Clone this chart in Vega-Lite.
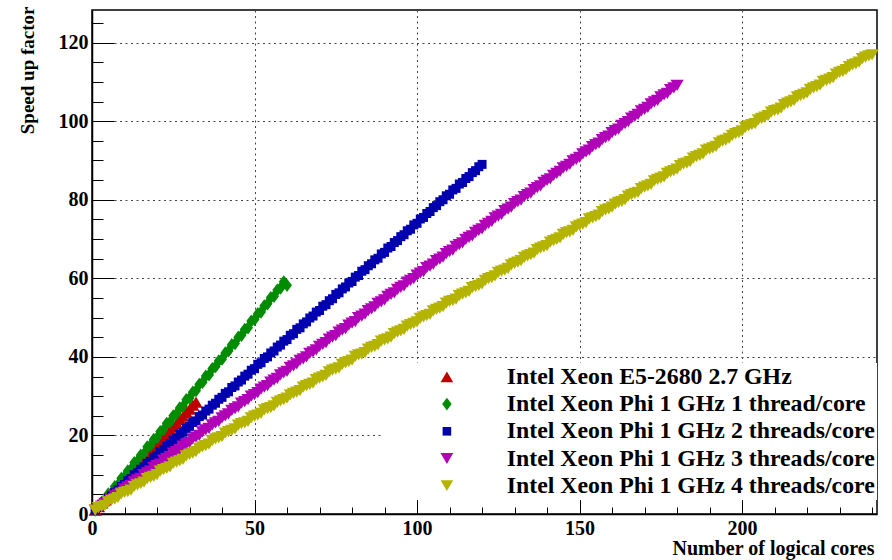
{
"$schema": "https://vega.github.io/schema/vega-lite/v6.json",
"width": 785, "height": 504,
"autosize": "none",
"padding": {"left": 92, "top": 10, "right": 15, "bottom": 46},
"background": "white",
"config": {
  "view": {"stroke": "#000", "strokeWidth": 1.5},
  "font": "Liberation Serif",
  "legend": {"orient": "none", "legendX": 290, "legendY": 353, "fillColor": "white", "padding": 2, "symbolSize": 160, "symbolOffset": 51, "labelOffset": 48, "labelFont": "Liberation Serif", "labelFontWeight": "bold", "labelFontSize": 23.8, "labelColor": "#000", "labelLimit": 0, "rowPadding": 2.2, "symbolStrokeWidth": 0, "symbolOpacity": 1, "strokeColor": null}
},
"data": {"values": [
{"s":"A","x":1,"y":1.0},{"s":"A","x":2,"y":1.9},{"s":"A","x":3,"y":2.8},{"s":"A","x":4,"y":3.6},{"s":"A","x":5,"y":4.6},{"s":"A","x":6,"y":5.4},{"s":"A","x":7,"y":6.3},{"s":"A","x":8,"y":7.2},
{"s":"A","x":9,"y":8.1},{"s":"A","x":10,"y":9.0},{"s":"A","x":11,"y":9.9},{"s":"A","x":12,"y":10.7},{"s":"A","x":13,"y":11.7},{"s":"A","x":14,"y":12.5},{"s":"A","x":15,"y":13.4},{"s":"A","x":16,"y":14.3},
{"s":"A","x":17,"y":15.2},{"s":"A","x":18,"y":16.1},{"s":"A","x":19,"y":17.0},{"s":"A","x":20,"y":17.8},{"s":"A","x":21,"y":18.8},{"s":"A","x":22,"y":19.6},{"s":"A","x":23,"y":20.5},{"s":"A","x":24,"y":21.4},
{"s":"A","x":25,"y":22.3},{"s":"A","x":26,"y":23.1},{"s":"A","x":27,"y":24.1},{"s":"A","x":28,"y":24.9},{"s":"A","x":29,"y":25.9},{"s":"A","x":30,"y":26.7},{"s":"A","x":31,"y":27.7},{"s":"A","x":32,"y":28.5},
{"s":"B","x":1,"y":1.0},{"s":"B","x":2,"y":1.6},{"s":"B","x":3,"y":3.0},{"s":"B","x":4,"y":3.5},{"s":"B","x":5,"y":5.1},{"s":"B","x":6,"y":5.4},{"s":"B","x":7,"y":7.0},{"s":"B","x":8,"y":7.5},
{"s":"B","x":9,"y":9.1},{"s":"B","x":10,"y":9.5},{"s":"B","x":11,"y":11.0},{"s":"B","x":12,"y":11.4},{"s":"B","x":13,"y":13.1},{"s":"B","x":14,"y":13.5},{"s":"B","x":15,"y":15.0},{"s":"B","x":16,"y":15.4},
{"s":"B","x":17,"y":17.1},{"s":"B","x":18,"y":17.5},{"s":"B","x":19,"y":19.0},{"s":"B","x":20,"y":19.4},{"s":"B","x":21,"y":21.0},{"s":"B","x":22,"y":21.5},{"s":"B","x":23,"y":23.1},{"s":"B","x":24,"y":23.4},
{"s":"B","x":25,"y":25.0},{"s":"B","x":26,"y":25.5},{"s":"B","x":27,"y":27.0},{"s":"B","x":28,"y":27.4},{"s":"B","x":29,"y":29.1},{"s":"B","x":30,"y":29.5},{"s":"B","x":31,"y":31.0},{"s":"B","x":32,"y":31.4},
{"s":"B","x":33,"y":33.0},{"s":"B","x":34,"y":33.5},{"s":"B","x":35,"y":35.1},{"s":"B","x":36,"y":35.4},{"s":"B","x":37,"y":37.0},{"s":"B","x":38,"y":37.5},{"s":"B","x":39,"y":39.0},{"s":"B","x":40,"y":39.4},
{"s":"B","x":41,"y":41.0},{"s":"B","x":42,"y":41.5},{"s":"B","x":43,"y":43.1},{"s":"B","x":44,"y":43.4},{"s":"B","x":45,"y":45.0},{"s":"B","x":46,"y":45.5},{"s":"B","x":47,"y":47.0},{"s":"B","x":48,"y":47.4},
{"s":"B","x":49,"y":49.1},{"s":"B","x":50,"y":49.5},{"s":"B","x":51,"y":51.0},{"s":"B","x":52,"y":51.4},{"s":"B","x":53,"y":53.0},{"s":"B","x":54,"y":53.5},{"s":"B","x":55,"y":55.1},{"s":"B","x":56,"y":55.4},
{"s":"B","x":57,"y":57.0},{"s":"B","x":58,"y":57.5},{"s":"B","x":59,"y":59.1},{"s":"B","x":60,"y":58.2},
{"s":"C","x":1,"y":1.0},{"s":"C","x":2,"y":1.7},{"s":"C","x":3,"y":2.5},{"s":"C","x":4,"y":3.1},{"s":"C","x":5,"y":4.0},{"s":"C","x":6,"y":4.6},{"s":"C","x":7,"y":5.5},{"s":"C","x":8,"y":6.1},
{"s":"C","x":9,"y":7.0},{"s":"C","x":10,"y":7.5},{"s":"C","x":11,"y":8.5},{"s":"C","x":12,"y":9.0},{"s":"C","x":13,"y":10.0},{"s":"C","x":14,"y":10.5},{"s":"C","x":15,"y":11.4},{"s":"C","x":16,"y":12.0},
{"s":"C","x":17,"y":12.9},{"s":"C","x":18,"y":13.4},{"s":"C","x":19,"y":14.4},{"s":"C","x":20,"y":14.9},{"s":"C","x":21,"y":15.9},{"s":"C","x":22,"y":16.4},{"s":"C","x":23,"y":17.3},{"s":"C","x":24,"y":17.9},
{"s":"C","x":25,"y":18.8},{"s":"C","x":26,"y":19.3},{"s":"C","x":27,"y":20.3},{"s":"C","x":28,"y":20.8},{"s":"C","x":29,"y":21.8},{"s":"C","x":30,"y":22.3},{"s":"C","x":31,"y":23.3},{"s":"C","x":32,"y":23.7},
{"s":"C","x":33,"y":24.8},{"s":"C","x":34,"y":25.2},{"s":"C","x":35,"y":26.2},{"s":"C","x":36,"y":26.7},{"s":"C","x":37,"y":27.7},{"s":"C","x":38,"y":28.2},{"s":"C","x":39,"y":29.2},{"s":"C","x":40,"y":29.7},
{"s":"C","x":41,"y":30.7},{"s":"C","x":42,"y":31.1},{"s":"C","x":43,"y":32.2},{"s":"C","x":44,"y":32.6},{"s":"C","x":45,"y":33.6},{"s":"C","x":46,"y":34.1},{"s":"C","x":47,"y":35.1},{"s":"C","x":48,"y":35.6},
{"s":"C","x":49,"y":36.6},{"s":"C","x":50,"y":37.0},{"s":"C","x":51,"y":38.1},{"s":"C","x":52,"y":38.5},{"s":"C","x":53,"y":39.6},{"s":"C","x":54,"y":40.0},{"s":"C","x":55,"y":41.0},{"s":"C","x":56,"y":41.5},
{"s":"C","x":57,"y":42.5},{"s":"C","x":58,"y":43.0},{"s":"C","x":59,"y":44.0},{"s":"C","x":60,"y":44.4},{"s":"C","x":61,"y":45.5},{"s":"C","x":62,"y":45.9},{"s":"C","x":63,"y":47.0},{"s":"C","x":64,"y":47.4},
{"s":"C","x":65,"y":48.4},{"s":"C","x":66,"y":48.9},{"s":"C","x":67,"y":49.9},{"s":"C","x":68,"y":50.4},{"s":"C","x":69,"y":51.4},{"s":"C","x":70,"y":51.8},{"s":"C","x":71,"y":52.9},{"s":"C","x":72,"y":53.3},
{"s":"C","x":73,"y":54.3},{"s":"C","x":74,"y":54.8},{"s":"C","x":75,"y":55.9},{"s":"C","x":76,"y":56.3},{"s":"C","x":77,"y":57.3},{"s":"C","x":78,"y":57.8},{"s":"C","x":79,"y":58.8},{"s":"C","x":80,"y":59.2},
{"s":"C","x":81,"y":60.3},{"s":"C","x":82,"y":60.7},{"s":"C","x":83,"y":61.8},{"s":"C","x":84,"y":62.2},{"s":"C","x":85,"y":63.2},{"s":"C","x":86,"y":63.7},{"s":"C","x":87,"y":64.7},{"s":"C","x":88,"y":65.1},
{"s":"C","x":89,"y":66.2},{"s":"C","x":90,"y":66.6},{"s":"C","x":91,"y":67.7},{"s":"C","x":92,"y":68.1},{"s":"C","x":93,"y":69.1},{"s":"C","x":94,"y":69.6},{"s":"C","x":95,"y":70.6},{"s":"C","x":96,"y":71.1},
{"s":"C","x":97,"y":72.1},{"s":"C","x":98,"y":72.5},{"s":"C","x":99,"y":73.6},{"s":"C","x":100,"y":74.0},{"s":"C","x":101,"y":75.1},{"s":"C","x":102,"y":75.5},{"s":"C","x":103,"y":76.5},{"s":"C","x":104,"y":77.0},
{"s":"C","x":105,"y":78.0},{"s":"C","x":106,"y":78.5},{"s":"C","x":107,"y":79.5},{"s":"C","x":108,"y":80.0},{"s":"C","x":109,"y":81.0},{"s":"C","x":110,"y":81.4},{"s":"C","x":111,"y":82.5},{"s":"C","x":112,"y":82.9},
{"s":"C","x":113,"y":84.0},{"s":"C","x":114,"y":84.4},{"s":"C","x":115,"y":85.4},{"s":"C","x":116,"y":85.9},{"s":"C","x":117,"y":86.9},{"s":"C","x":118,"y":87.4},{"s":"C","x":119,"y":88.4},{"s":"C","x":120,"y":89.0},
{"s":"D","x":1,"y":1.0},{"s":"D","x":2,"y":1.5},{"s":"D","x":3,"y":2.0},{"s":"D","x":4,"y":2.7},{"s":"D","x":5,"y":3.2},{"s":"D","x":6,"y":3.7},{"s":"D","x":7,"y":4.6},{"s":"D","x":8,"y":5.0},
{"s":"D","x":9,"y":5.5},{"s":"D","x":10,"y":6.4},{"s":"D","x":11,"y":6.9},{"s":"D","x":12,"y":7.3},{"s":"D","x":13,"y":8.2},{"s":"D","x":14,"y":8.7},{"s":"D","x":15,"y":9.1},{"s":"D","x":16,"y":10.0},
{"s":"D","x":17,"y":10.5},{"s":"D","x":18,"y":10.9},{"s":"D","x":19,"y":11.9},{"s":"D","x":20,"y":12.3},{"s":"D","x":21,"y":12.7},{"s":"D","x":22,"y":13.7},{"s":"D","x":23,"y":14.1},{"s":"D","x":24,"y":14.6},
{"s":"D","x":25,"y":15.5},{"s":"D","x":26,"y":15.9},{"s":"D","x":27,"y":16.4},{"s":"D","x":28,"y":17.3},{"s":"D","x":29,"y":17.7},{"s":"D","x":30,"y":18.2},{"s":"D","x":31,"y":19.1},{"s":"D","x":32,"y":19.6},
{"s":"D","x":33,"y":20.0},{"s":"D","x":34,"y":20.9},{"s":"D","x":35,"y":21.4},{"s":"D","x":36,"y":21.8},{"s":"D","x":37,"y":22.7},{"s":"D","x":38,"y":23.2},{"s":"D","x":39,"y":23.6},{"s":"D","x":40,"y":24.5},
{"s":"D","x":41,"y":25.0},{"s":"D","x":42,"y":25.5},{"s":"D","x":43,"y":26.4},{"s":"D","x":44,"y":26.8},{"s":"D","x":45,"y":27.3},{"s":"D","x":46,"y":28.2},{"s":"D","x":47,"y":28.6},{"s":"D","x":48,"y":29.1},
{"s":"D","x":49,"y":30.0},{"s":"D","x":50,"y":30.4},{"s":"D","x":51,"y":30.9},{"s":"D","x":52,"y":31.8},{"s":"D","x":53,"y":32.3},{"s":"D","x":54,"y":32.7},{"s":"D","x":55,"y":33.6},{"s":"D","x":56,"y":34.1},
{"s":"D","x":57,"y":34.5},{"s":"D","x":58,"y":35.4},{"s":"D","x":59,"y":35.9},{"s":"D","x":60,"y":36.3},{"s":"D","x":61,"y":37.3},{"s":"D","x":62,"y":37.7},{"s":"D","x":63,"y":38.2},{"s":"D","x":64,"y":39.1},
{"s":"D","x":65,"y":39.5},{"s":"D","x":66,"y":40.0},{"s":"D","x":67,"y":40.9},{"s":"D","x":68,"y":41.3},{"s":"D","x":69,"y":41.8},{"s":"D","x":70,"y":42.7},{"s":"D","x":71,"y":43.2},{"s":"D","x":72,"y":43.6},
{"s":"D","x":73,"y":44.5},{"s":"D","x":74,"y":45.0},{"s":"D","x":75,"y":45.4},{"s":"D","x":76,"y":46.3},{"s":"D","x":77,"y":46.8},{"s":"D","x":78,"y":47.2},{"s":"D","x":79,"y":48.1},{"s":"D","x":80,"y":48.6},
{"s":"D","x":81,"y":49.0},{"s":"D","x":82,"y":50.0},{"s":"D","x":83,"y":50.4},{"s":"D","x":84,"y":50.9},{"s":"D","x":85,"y":51.8},{"s":"D","x":86,"y":52.2},{"s":"D","x":87,"y":52.7},{"s":"D","x":88,"y":53.6},
{"s":"D","x":89,"y":54.0},{"s":"D","x":90,"y":54.5},{"s":"D","x":91,"y":55.4},{"s":"D","x":92,"y":55.9},{"s":"D","x":93,"y":56.3},{"s":"D","x":94,"y":57.2},{"s":"D","x":95,"y":57.7},{"s":"D","x":96,"y":58.1},
{"s":"D","x":97,"y":59.0},{"s":"D","x":98,"y":59.5},{"s":"D","x":99,"y":59.9},{"s":"D","x":100,"y":60.8},{"s":"D","x":101,"y":61.3},{"s":"D","x":102,"y":61.7},{"s":"D","x":103,"y":62.7},{"s":"D","x":104,"y":63.1},
{"s":"D","x":105,"y":63.6},{"s":"D","x":106,"y":64.5},{"s":"D","x":107,"y":64.9},{"s":"D","x":108,"y":65.4},{"s":"D","x":109,"y":66.3},{"s":"D","x":110,"y":66.8},{"s":"D","x":111,"y":67.2},{"s":"D","x":112,"y":68.1},
{"s":"D","x":113,"y":68.6},{"s":"D","x":114,"y":69.0},{"s":"D","x":115,"y":69.9},{"s":"D","x":116,"y":70.4},{"s":"D","x":117,"y":70.8},{"s":"D","x":118,"y":71.7},{"s":"D","x":119,"y":72.2},{"s":"D","x":120,"y":72.6},
{"s":"D","x":121,"y":73.5},{"s":"D","x":122,"y":74.0},{"s":"D","x":123,"y":74.5},{"s":"D","x":124,"y":75.4},{"s":"D","x":125,"y":75.8},{"s":"D","x":126,"y":76.3},{"s":"D","x":127,"y":77.2},{"s":"D","x":128,"y":77.6},
{"s":"D","x":129,"y":78.1},{"s":"D","x":130,"y":79.0},{"s":"D","x":131,"y":79.5},{"s":"D","x":132,"y":79.9},{"s":"D","x":133,"y":80.8},{"s":"D","x":134,"y":81.3},{"s":"D","x":135,"y":81.7},{"s":"D","x":136,"y":82.6},
{"s":"D","x":137,"y":83.1},{"s":"D","x":138,"y":83.5},{"s":"D","x":139,"y":84.4},{"s":"D","x":140,"y":84.9},{"s":"D","x":141,"y":85.3},{"s":"D","x":142,"y":86.2},{"s":"D","x":143,"y":86.7},{"s":"D","x":144,"y":87.2},
{"s":"D","x":145,"y":88.1},{"s":"D","x":146,"y":88.5},{"s":"D","x":147,"y":89.0},{"s":"D","x":148,"y":89.9},{"s":"D","x":149,"y":90.3},{"s":"D","x":150,"y":90.8},{"s":"D","x":151,"y":91.7},{"s":"D","x":152,"y":92.2},
{"s":"D","x":153,"y":92.6},{"s":"D","x":154,"y":93.5},{"s":"D","x":155,"y":94.0},{"s":"D","x":156,"y":94.4},{"s":"D","x":157,"y":95.3},{"s":"D","x":158,"y":95.8},{"s":"D","x":159,"y":96.2},{"s":"D","x":160,"y":97.1},
{"s":"D","x":161,"y":97.6},{"s":"D","x":162,"y":98.0},{"s":"D","x":163,"y":98.9},{"s":"D","x":164,"y":99.4},{"s":"D","x":165,"y":99.9},{"s":"D","x":166,"y":100.8},{"s":"D","x":167,"y":101.2},{"s":"D","x":168,"y":101.7},
{"s":"D","x":169,"y":102.6},{"s":"D","x":170,"y":103.0},{"s":"D","x":171,"y":103.5},{"s":"D","x":172,"y":104.4},{"s":"D","x":173,"y":104.9},{"s":"D","x":174,"y":105.3},{"s":"D","x":175,"y":106.2},{"s":"D","x":176,"y":106.7},
{"s":"D","x":177,"y":107.1},{"s":"D","x":178,"y":108.0},{"s":"D","x":179,"y":108.5},{"s":"D","x":180,"y":109.1},
{"s":"E","x":1,"y":1.0},{"s":"E","x":2,"y":1.6},{"s":"E","x":3,"y":1.9},{"s":"E","x":4,"y":2.2},{"s":"E","x":5,"y":3.1},{"s":"E","x":6,"y":3.5},{"s":"E","x":7,"y":3.8},{"s":"E","x":8,"y":4.2},
{"s":"E","x":9,"y":5.1},{"s":"E","x":10,"y":5.5},{"s":"E","x":11,"y":5.7},{"s":"E","x":12,"y":6.1},{"s":"E","x":13,"y":7.0},{"s":"E","x":14,"y":7.4},{"s":"E","x":15,"y":7.7},{"s":"E","x":16,"y":8.1},
{"s":"E","x":17,"y":9.0},{"s":"E","x":18,"y":9.3},{"s":"E","x":19,"y":9.6},{"s":"E","x":20,"y":10.0},{"s":"E","x":21,"y":10.9},{"s":"E","x":22,"y":11.3},{"s":"E","x":23,"y":11.6},{"s":"E","x":24,"y":12.0},
{"s":"E","x":25,"y":12.9},{"s":"E","x":26,"y":13.2},{"s":"E","x":27,"y":13.5},{"s":"E","x":28,"y":13.9},{"s":"E","x":29,"y":14.8},{"s":"E","x":30,"y":15.2},{"s":"E","x":31,"y":15.5},{"s":"E","x":32,"y":15.9},
{"s":"E","x":33,"y":16.7},{"s":"E","x":34,"y":17.1},{"s":"E","x":35,"y":17.4},{"s":"E","x":36,"y":17.8},{"s":"E","x":37,"y":18.7},{"s":"E","x":38,"y":19.1},{"s":"E","x":39,"y":19.4},{"s":"E","x":40,"y":19.7},
{"s":"E","x":41,"y":20.6},{"s":"E","x":42,"y":21.0},{"s":"E","x":43,"y":21.3},{"s":"E","x":44,"y":21.7},{"s":"E","x":45,"y":22.6},{"s":"E","x":46,"y":23.0},{"s":"E","x":47,"y":23.2},{"s":"E","x":48,"y":23.6},
{"s":"E","x":49,"y":24.5},{"s":"E","x":50,"y":24.9},{"s":"E","x":51,"y":25.2},{"s":"E","x":52,"y":25.6},{"s":"E","x":53,"y":26.5},{"s":"E","x":54,"y":26.8},{"s":"E","x":55,"y":27.1},{"s":"E","x":56,"y":27.5},
{"s":"E","x":57,"y":28.4},{"s":"E","x":58,"y":28.8},{"s":"E","x":59,"y":29.1},{"s":"E","x":60,"y":29.5},{"s":"E","x":61,"y":30.3},{"s":"E","x":62,"y":30.7},{"s":"E","x":63,"y":31.0},{"s":"E","x":64,"y":31.4},
{"s":"E","x":65,"y":32.3},{"s":"E","x":66,"y":32.7},{"s":"E","x":67,"y":33.0},{"s":"E","x":68,"y":33.3},{"s":"E","x":69,"y":34.2},{"s":"E","x":70,"y":34.6},{"s":"E","x":71,"y":34.9},{"s":"E","x":72,"y":35.3},
{"s":"E","x":73,"y":36.2},{"s":"E","x":74,"y":36.6},{"s":"E","x":75,"y":36.9},{"s":"E","x":76,"y":37.2},{"s":"E","x":77,"y":38.1},{"s":"E","x":78,"y":38.5},{"s":"E","x":79,"y":38.8},{"s":"E","x":80,"y":39.2},
{"s":"E","x":81,"y":40.1},{"s":"E","x":82,"y":40.5},{"s":"E","x":83,"y":40.7},{"s":"E","x":84,"y":41.1},{"s":"E","x":85,"y":42.0},{"s":"E","x":86,"y":42.4},{"s":"E","x":87,"y":42.7},{"s":"E","x":88,"y":43.1},
{"s":"E","x":89,"y":44.0},{"s":"E","x":90,"y":44.3},{"s":"E","x":91,"y":44.6},{"s":"E","x":92,"y":45.0},{"s":"E","x":93,"y":45.9},{"s":"E","x":94,"y":46.3},{"s":"E","x":95,"y":46.6},{"s":"E","x":96,"y":47.0},
{"s":"E","x":97,"y":47.8},{"s":"E","x":98,"y":48.2},{"s":"E","x":99,"y":48.5},{"s":"E","x":100,"y":48.9},{"s":"E","x":101,"y":49.8},{"s":"E","x":102,"y":50.2},{"s":"E","x":103,"y":50.5},{"s":"E","x":104,"y":50.8},
{"s":"E","x":105,"y":51.7},{"s":"E","x":106,"y":52.1},{"s":"E","x":107,"y":52.4},{"s":"E","x":108,"y":52.8},{"s":"E","x":109,"y":53.7},{"s":"E","x":110,"y":54.1},{"s":"E","x":111,"y":54.3},{"s":"E","x":112,"y":54.7},
{"s":"E","x":113,"y":55.6},{"s":"E","x":114,"y":56.0},{"s":"E","x":115,"y":56.3},{"s":"E","x":116,"y":56.7},{"s":"E","x":117,"y":57.6},{"s":"E","x":118,"y":57.9},{"s":"E","x":119,"y":58.2},{"s":"E","x":120,"y":58.6},
{"s":"E","x":121,"y":59.5},{"s":"E","x":122,"y":59.9},{"s":"E","x":123,"y":60.2},{"s":"E","x":124,"y":60.6},{"s":"E","x":125,"y":61.5},{"s":"E","x":126,"y":61.8},{"s":"E","x":127,"y":62.1},{"s":"E","x":128,"y":62.5},
{"s":"E","x":129,"y":63.4},{"s":"E","x":130,"y":63.8},{"s":"E","x":131,"y":64.1},{"s":"E","x":132,"y":64.5},{"s":"E","x":133,"y":65.3},{"s":"E","x":134,"y":65.7},{"s":"E","x":135,"y":66.0},{"s":"E","x":136,"y":66.4},
{"s":"E","x":137,"y":67.3},{"s":"E","x":138,"y":67.7},{"s":"E","x":139,"y":68.0},{"s":"E","x":140,"y":68.3},{"s":"E","x":141,"y":69.2},{"s":"E","x":142,"y":69.6},{"s":"E","x":143,"y":69.9},{"s":"E","x":144,"y":70.3},
{"s":"E","x":145,"y":71.2},{"s":"E","x":146,"y":71.6},{"s":"E","x":147,"y":71.8},{"s":"E","x":148,"y":72.2},{"s":"E","x":149,"y":73.1},{"s":"E","x":150,"y":73.5},{"s":"E","x":151,"y":73.8},{"s":"E","x":152,"y":74.2},
{"s":"E","x":153,"y":75.1},{"s":"E","x":154,"y":75.4},{"s":"E","x":155,"y":75.7},{"s":"E","x":156,"y":76.1},{"s":"E","x":157,"y":77.0},{"s":"E","x":158,"y":77.4},{"s":"E","x":159,"y":77.7},{"s":"E","x":160,"y":78.1},
{"s":"E","x":161,"y":78.9},{"s":"E","x":162,"y":79.3},{"s":"E","x":163,"y":79.6},{"s":"E","x":164,"y":80.0},{"s":"E","x":165,"y":80.9},{"s":"E","x":166,"y":81.3},{"s":"E","x":167,"y":81.6},{"s":"E","x":168,"y":81.9},
{"s":"E","x":169,"y":82.8},{"s":"E","x":170,"y":83.2},{"s":"E","x":171,"y":83.5},{"s":"E","x":172,"y":83.9},{"s":"E","x":173,"y":84.8},{"s":"E","x":174,"y":85.2},{"s":"E","x":175,"y":85.5},{"s":"E","x":176,"y":85.8},
{"s":"E","x":177,"y":86.7},{"s":"E","x":178,"y":87.1},{"s":"E","x":179,"y":87.4},{"s":"E","x":180,"y":87.8},{"s":"E","x":181,"y":88.7},{"s":"E","x":182,"y":89.1},{"s":"E","x":183,"y":89.3},{"s":"E","x":184,"y":89.7},
{"s":"E","x":185,"y":90.6},{"s":"E","x":186,"y":91.0},{"s":"E","x":187,"y":91.3},{"s":"E","x":188,"y":91.7},{"s":"E","x":189,"y":92.6},{"s":"E","x":190,"y":92.9},{"s":"E","x":191,"y":93.2},{"s":"E","x":192,"y":93.6},
{"s":"E","x":193,"y":94.5},{"s":"E","x":194,"y":94.9},{"s":"E","x":195,"y":95.2},{"s":"E","x":196,"y":95.6},{"s":"E","x":197,"y":96.4},{"s":"E","x":198,"y":96.8},{"s":"E","x":199,"y":97.1},{"s":"E","x":200,"y":97.5},
{"s":"E","x":201,"y":98.4},{"s":"E","x":202,"y":98.8},{"s":"E","x":203,"y":99.1},{"s":"E","x":204,"y":99.4},{"s":"E","x":205,"y":100.3},{"s":"E","x":206,"y":100.7},{"s":"E","x":207,"y":101.0},{"s":"E","x":208,"y":101.4},
{"s":"E","x":209,"y":102.3},{"s":"E","x":210,"y":102.7},{"s":"E","x":211,"y":102.9},{"s":"E","x":212,"y":103.3},{"s":"E","x":213,"y":104.2},{"s":"E","x":214,"y":104.6},{"s":"E","x":215,"y":104.9},{"s":"E","x":216,"y":105.3},
{"s":"E","x":217,"y":106.2},{"s":"E","x":218,"y":106.5},{"s":"E","x":219,"y":106.8},{"s":"E","x":220,"y":107.2},{"s":"E","x":221,"y":108.1},{"s":"E","x":222,"y":108.5},{"s":"E","x":223,"y":108.8},{"s":"E","x":224,"y":109.2},
{"s":"E","x":225,"y":110.1},{"s":"E","x":226,"y":110.4},{"s":"E","x":227,"y":110.7},{"s":"E","x":228,"y":111.1},{"s":"E","x":229,"y":112.0},{"s":"E","x":230,"y":112.4},{"s":"E","x":231,"y":112.7},{"s":"E","x":232,"y":113.1},
{"s":"E","x":233,"y":113.9},{"s":"E","x":234,"y":114.3},{"s":"E","x":235,"y":114.6},{"s":"E","x":236,"y":115.0},{"s":"E","x":237,"y":115.9},{"s":"E","x":238,"y":116.3},{"s":"E","x":239,"y":116.6},{"s":"E","x":240,"y":116.9}
]},
"resolve": {"axis": {"x": "independent", "y": "independent"}},
"layer": [
  {
    "mark": {"type": "point", "filled": true, "opacity": 1, "strokeWidth": 0, "size": 175},
    "encoding": {
      "x": {"field": "x", "type": "quantitative", "scale": {"domain": [0, 241.5], "nice": false, "zero": false},
        "axis": {"orient": "bottom", "values": [0, 50, 100, 150, 200], "grid": true, "gridDash": [2, 3.5], "gridColor": "#444", "gridWidth": 1, "gridOpacity": 1, "ticks": false, "domain": true, "domainColor": "#000", "domainWidth": 1.5, "labelFont": "Liberation Serif", "labelFontWeight": "bold", "labelFontSize": 20, "labelColor": "#000", "labelPadding": 4, "labelFlush": false, "labelOverlap": false, "title": "Number of logical cores", "titleFont": "Liberation Serif", "titleFontWeight": "bold", "titleFontSize": 20, "titleColor": "#000", "titleAlign": "right", "titleAnchor": "end", "titleBaseline": "alphabetic", "titleX": 782, "titleY": 40}},
      "y": {"field": "y", "type": "quantitative", "scale": {"domain": [0, 128.3], "nice": false, "zero": false},
        "axis": {"orient": "left", "values": [0, 20, 40, 60, 80, 100, 120], "grid": true, "gridDash": [2, 3.5], "gridColor": "#444", "gridWidth": 1, "gridOpacity": 1, "ticks": false, "domain": true, "domainColor": "#000", "domainWidth": 1.5, "labelFont": "Liberation Serif", "labelFontWeight": "bold", "labelFontSize": 20, "labelColor": "#000", "labelPadding": 4, "labelFlush": false, "labelOverlap": false, "title": "Speed up factor", "titleFont": "Liberation Serif", "titleFontWeight": "bold", "titleFontSize": 19, "titleColor": "#000", "titleAngle": 270, "titleAlign": "right", "titleBaseline": "alphabetic", "titleX": -59, "titleY": -4}},
      "color": {"field": "s", "type": "nominal", "scale": {"domain": ["A", "B", "C", "D", "E"], "range": ["#bf0000", "#008c00", "#0000b0", "#b000b8", "#b4b400"]},
        "legend": {"title": null, "labelExpr": "datum.value=='A'?'Intel Xeon E5-2680 2.7 GHz':datum.value=='B'?'Intel Xeon Phi 1 GHz 1 thread/core':datum.value=='C'?'Intel Xeon Phi 1 GHz 2 threads/core':datum.value=='D'?'Intel Xeon Phi 1 GHz 3 threads/core':'Intel Xeon Phi 1 GHz 4 threads/core'"}},
      "shape": {"field": "s", "type": "nominal", "scale": {"domain": ["A", "B", "C", "D", "E"], "range": ["M0,-0.85L1,0.85L-1,0.85Z", "M0,-1L0.75,0L0,1L-0.75,0Z", "M-0.68,-0.68L0.68,-0.68L0.68,0.68L-0.68,0.68Z", "M-1,-0.85L1,-0.85L0,0.85Z", "M-1,-0.85L1,-0.85L0,0.85Z"]},
        "legend": {"title": null, "labelExpr": "datum.value=='A'?'Intel Xeon E5-2680 2.7 GHz':datum.value=='B'?'Intel Xeon Phi 1 GHz 1 thread/core':datum.value=='C'?'Intel Xeon Phi 1 GHz 2 threads/core':datum.value=='D'?'Intel Xeon Phi 1 GHz 3 threads/core':'Intel Xeon Phi 1 GHz 4 threads/core'"}}
    }
  },
  {
    "mark": {"type": "point", "opacity": 0},
    "encoding": {
      "x": {"field": "x", "type": "quantitative", "scale": {"domain": [0, 241.5], "nice": false, "zero": false},
        "axis": {"orient": "bottom", "values": [0, 50, 100, 150, 200], "ticks": true, "tickSize": -14, "tickColor": "#000", "tickWidth": 1, "labels": false, "domain": false, "grid": false, "title": null}},
      "y": {"field": "y", "type": "quantitative", "scale": {"domain": [0, 128.3], "nice": false, "zero": false},
        "axis": {"orient": "left", "values": [0, 20, 40, 60, 80, 100, 120], "ticks": true, "tickSize": -22, "tickColor": "#000", "tickWidth": 1, "labels": false, "domain": false, "grid": false, "title": null}}
    }
  },
  {
    "mark": {"type": "point", "opacity": 0},
    "encoding": {
      "x": {"field": "x", "type": "quantitative", "scale": {"domain": [0, 241.5], "nice": false, "zero": false},
        "axis": {"orient": "bottom", "values": [10, 20, 30, 40, 60, 70, 80, 90, 110, 120, 130, 140, 160, 170, 180, 190, 210, 220, 230, 240], "ticks": true, "tickSize": -7, "tickColor": "#000", "tickWidth": 1, "labels": false, "domain": false, "grid": false, "title": null}},
      "y": {"field": "y", "type": "quantitative", "scale": {"domain": [0, 128.3], "nice": false, "zero": false},
        "axis": {"orient": "left", "values": [5, 10, 15, 25, 30, 35, 45, 50, 55, 65, 70, 75, 85, 90, 95, 105, 110, 115, 125], "ticks": true, "tickSize": -11, "tickColor": "#000", "tickWidth": 1, "labels": false, "domain": false, "grid": false, "title": null}}
    }
  }
]
}
